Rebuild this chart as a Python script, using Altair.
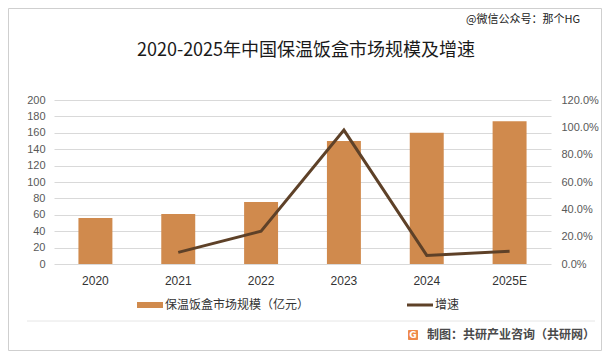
import altair as alt
import pandas as pd

years = ["2020", "2021", "2022", "2023", "2024", "2025E"]
market_size = [56, 61, 75.5, 150, 160, 174]
growth_years = ["2021", "2022", "2023", "2024", "2025E"]
growth_rate = [0.085, 0.24, 0.98, 0.063, 0.093]

title_text = "2020-2025年中国保温饭盒市场规模及增速"
wm_text = "@微信公众号：那个HG"
legend_bar = "保温饭盒市场规模（亿元）"
legend_line = "增速"
source_text = "制图：共研产业咨询（共研网）"

BAR = "#D08A4D"
LINE = "#5E4128"
FONT = "Noto Sans CJK SC"

bars_df = pd.DataFrame({"year": years, "size": market_size})
line_df = pd.DataFrame({"year": growth_years, "rate": growth_rate})
one = pd.DataFrame({"k": [0]})

xenc = alt.X("year:N", sort=years, title=None,
             scale=alt.Scale(paddingInner=0.59, paddingOuter=0.295),
             axis=alt.Axis(labelAngle=0, domain=False, ticks=False, labelPadding=11,
                           labelFontSize=12, labelColor="#333333", labelFont="Liberation Sans"))

bars = alt.Chart(bars_df).mark_bar(color=BAR).encode(
    x=xenc,
    y=alt.Y("size:Q", title=None,
            scale=alt.Scale(domain=[0, 200]),
            axis=alt.Axis(values=list(range(0, 201, 20)), domain=False, ticks=False,
                          labelPadding=9, labelFontSize=11, labelColor="#595959",
                          gridColor="#D9D9D9", labelFont="Liberation Sans")),
)

line = alt.Chart(line_df).mark_line(color=LINE, strokeWidth=3).encode(
    x=alt.X("year:N", sort=years),
    y=alt.Y("rate:Q", title=None,
            scale=alt.Scale(domain=[0, 1.2]),
            axis=alt.Axis(orient="right", values=[0, 0.2, 0.4, 0.6, 0.8, 1.0, 1.2],
                          format=".1%", domain=False, ticks=False, grid=False,
                          labelPadding=10, labelFontSize=11, labelColor="#595959",
                          labelFont="Liberation Sans")),
)

main = alt.layer(bars, line).resolve_scale(y="independent")

BC = "#CFCFCF"
L, R, T, B = -45.5, 547.5, -91.5, 250.5
b_top = alt.Chart(one).mark_rule(color=BC, strokeWidth=1).encode(
    x=alt.value(L), x2=alt.value(R), y=alt.value(T))
b_bot = alt.Chart(one).mark_rule(color=BC, strokeWidth=1).encode(
    x=alt.value(L), x2=alt.value(R), y=alt.value(B))
b_left = alt.Chart(one).mark_rule(color=BC, strokeWidth=1).encode(
    x=alt.value(L), y=alt.value(T), y2=alt.value(B))
b_right = alt.Chart(one).mark_rule(color=BC, strokeWidth=1).encode(
    x=alt.value(R), y=alt.value(T), y2=alt.value(B))
sep = alt.Chart(one).mark_rule(color="#E6E6E6", strokeWidth=1).encode(
    x=alt.value(-27), x2=alt.value(541), y=alt.value(221))
title = alt.Chart(one).mark_text(text=title_text, font=FONT, fontSize=18,
                                 color="#1a1a1a", align="center", baseline="middle").encode(
    x=alt.value(252), y=alt.value(-49))
wm = alt.Chart(one).mark_text(text=wm_text, font=FONT, fontSize=11,
                              color="#222222", align="right", baseline="middle").encode(
    x=alt.value(526), y=alt.value(-80))
leg_rect = alt.Chart(one).mark_rect(color=BAR).encode(
    x=alt.value(83), x2=alt.value(109), y=alt.value(202), y2=alt.value(208))
leg_text1 = alt.Chart(one).mark_text(text=legend_bar, font=FONT, fontSize=12,
                                     color="#333333", align="left", baseline="middle").encode(
    x=alt.value(111), y=alt.value(205))
leg_line = alt.Chart(one).mark_rule(color=LINE, strokeWidth=3).encode(
    x=alt.value(353), x2=alt.value(379), y=alt.value(205))
leg_text2 = alt.Chart(one).mark_text(text=legend_line, font=FONT, fontSize=12,
                                     color="#333333", align="left", baseline="middle").encode(
    x=alt.value(381), y=alt.value(205))
icon = alt.Chart(one).mark_rect(color="#EE8A4A", cornerRadius=1).encode(
    x=alt.value(354), x2=alt.value(364), y=alt.value(230), y2=alt.value(240))
icon_t = alt.Chart(one).mark_text(text="G", font="DejaVu Sans", fontSize=9, fontWeight="bold",
                                  color="white", align="center", baseline="middle").encode(
    x=alt.value(359), y=alt.value(235))
src = alt.Chart(one).mark_text(text=source_text, font=FONT, fontSize=12, fontWeight="bold",
                               color="#4a4a4a", align="right", baseline="middle").encode(
    x=alt.value(541), y=alt.value(235))

chart = alt.layer(main, b_top, b_bot, b_left, b_right, sep, title, wm, leg_rect, leg_text1,
                  leg_line, leg_text2, icon, icon_t, src).properties(
    width=497, height=164,
    autosize=alt.AutoSizeParams(type="none"),
    padding={"left": 46, "top": 92, "right": 53, "bottom": 87},
).configure_view(stroke=None).configure_axis(labelFont="Liberation Sans")

chart.save("out.html", embed_options={"renderer": "svg", "actions": False})
